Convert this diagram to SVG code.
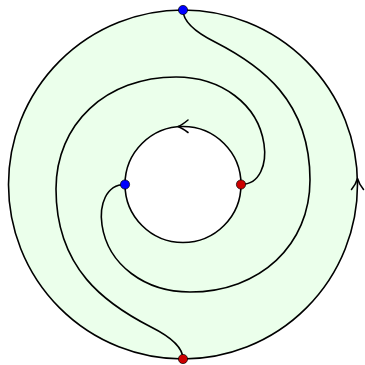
<svg xmlns="http://www.w3.org/2000/svg" width="365" height="365" viewBox="0 0 365 365">
<style>
.ln{fill:none;stroke:#000;stroke-width:1.6;stroke-linecap:round;stroke-linejoin:round}
.dot{stroke:#000;stroke-width:0.7}
.blue{fill:#0000ff}
.red{fill:#cc0000}
</style>
<rect width="365" height="365" fill="#fff"/>
<g id="region">
<path d="M8.5,184.5 A174.5,174.5 0 1 0 357.5,184.5 A174.5,174.5 0 1 0 8.5,184.5 Z M125,184.5 A58,58 0 1 1 241,184.5 A58,58 0 1 1 125,184.5 Z" fill="#ebffeb" fill-rule="evenodd"/>
</g>
<g id="connectors">
<circle id="outer-circle" class="ln" cx="183" cy="184.5" r="174.5"/>
<circle id="inner-circle" class="ln" cx="183" cy="184.5" r="58"/>
<path id="spiral1" class="ln" d="M125,184.5 C106,184.5 99,205 102,225 C108,265 145,292 190,292 C260,292 310,245 310,180 C310,100 260,65 215,42 C195,32 183,22 183,10"/>
<path id="spiral2" class="ln" transform="rotate(180 183 184.5)" d="M125,184.5 C106,184.5 99,205 102,225 C108,265 145,292 190,292 C260,292 310,245 310,180 C310,100 260,65 215,42 C195,32 183,22 183,10"/>
<path id="arrow-inner" class="ln" d="M188,120 Q182,125 178,126.5 Q182,128 188,132.5"/>
<path id="arrow-outer" class="ln" d="M351.5,189.5 Q356,184 357.5,178.5 Q359,184 363.5,189.5"/>
</g>
<g id="node-top"><circle class="dot blue" cx="183" cy="10" r="4.6"/></g>
<g id="node-bottom"><circle class="dot red" cx="183" cy="359" r="4.6"/></g>
<g id="node-left"><circle class="dot blue" cx="125" cy="184.5" r="4.6"/></g>
<g id="node-right"><circle class="dot red" cx="241" cy="184.5" r="4.6"/></g>
</svg>
